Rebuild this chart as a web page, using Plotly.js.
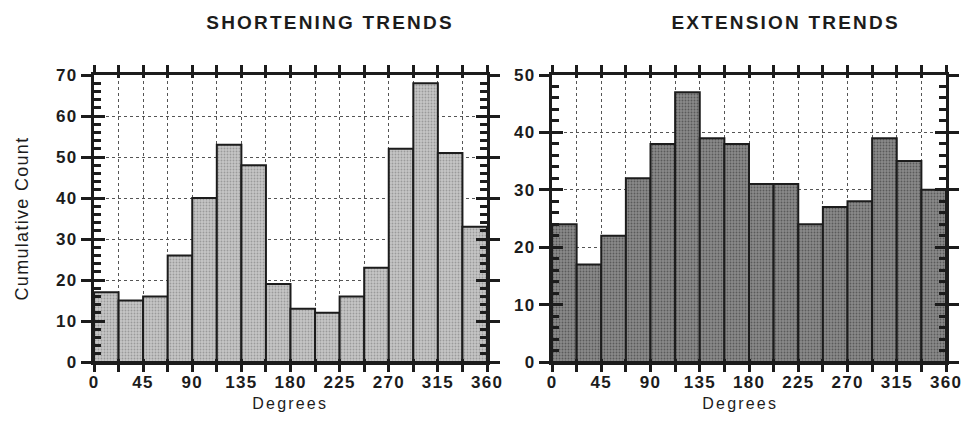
<!DOCTYPE html>
<html>
<head>
<meta charset="utf-8">
<script src="https://cdn.plot.ly/plotly-3.0.1.min.js"></script>
<style>
  html, body { margin: 0; padding: 0; background: #fff; }
  .main-svg text { letter-spacing: 1.3px; }
  .main-svg .annotation-text { letter-spacing: 2.2px; }
</style>
</head>
<body>
<div id="chart" style="width:970px;height:438px;"></div>
<script>
// Bin starts (degrees), each bin 22.5 degrees wide
const binStart = [0, 22.5, 45, 67.5, 90, 112.5, 135, 157.5, 180, 202.5, 225, 247.5, 270, 292.5, 315, 337.5];
const binWidth = 22.5;

// Cumulative counts
const shorteningCounts = [17, 15, 16, 26, 40, 53, 48, 19, 13, 12, 16, 23, 52, 68, 51, 33];
const extensionCounts  = [24, 17, 22, 32, 38, 47, 39, 38, 31, 31, 24, 27, 28, 39, 35, 30];

// Tick values / labels
const xTickVals = [0, 22.5, 45, 67.5, 90, 112.5, 135, 157.5, 180, 202.5, 225, 247.5, 270, 292.5, 315, 337.5, 360];
const xTickText = ['0', '', '45', '', '90', '', '135', '', '180', '', '225', '', '270', '', '315', '', '360'];

const titles = ['SHORTENING TRENDS', 'EXTENSION TRENDS'];
const yTitle = 'Cumulative Count';
const xTitle = 'Degrees';

const ink = '#1c1c1c';
const family = 'Liberation Sans, Arial, sans-serif';
const tickFont = {family: family, size: 17, color: ink, weight: 'bold'};
const titleFont = {family: family, size: 16, color: ink};

function bars(counts, xa, ya, fill, dots) {
  return {
    type: 'bar', x: binStart, y: counts, width: binWidth, offset: 0,
    xaxis: xa, yaxis: ya, showlegend: false, hoverinfo: 'x+y',
    marker: {
      color: fill,
      line: {color: ink, width: 2},
      pattern: {shape: '.', bgcolor: fill, fgcolor: dots, fillmode: 'replace', size: 3, solidity: 0.3}
    }
  };
}
function empty(xa, ya) {
  return {type: 'scatter', x: [], y: [], xaxis: xa, yaxis: ya, showlegend: false};
}

const data = [
  bars(shorteningCounts, 'x', 'y', '#c6c6c6', '#9a9a9a'),
  bars(extensionCounts, 'x2', 'y2', '#8a8a8a', '#5a5a5a'),
  empty('x3', 'y'), empty('x', 'y3'), empty('x', 'y5'),
  empty('x4', 'y2'), empty('x2', 'y4'), empty('x2', 'y6')
];

const H = 438, W = 970;
const yDom = [(H - 362) / H, (H - 75) / H];
const xDomL = [94 / W, 487 / W];
const xDomR = [552 / W, 946 / W];

function mainX(dom, anchor) {
  return {
    domain: dom, anchor: anchor, range: [0, 360], autorange: false,
    tickmode: 'array', tickvals: xTickVals, ticktext: xTickText,
    ticks: 'inside', ticklen: 3, tickwidth: 3, tickcolor: ink,
    ticklabelstandoff: 3,
    showline: true, linewidth: 3, linecolor: ink, mirror: 'allticks',
    showgrid: true, gridcolor: '#555', griddash: 'dot', gridwidth: 1,
    zeroline: false, tickfont: tickFont
  };
}
function overX(over, anchor) {
  return {
    overlaying: over, anchor: anchor, range: [0, 360], autorange: false,
    tickmode: 'array', tickvals: xTickVals, ticks: 'outside', ticklen: 9, tickwidth: 3,
    tickcolor: ink, showticklabels: false, showgrid: false, showline: false,
    zeroline: false, mirror: 'allticks'
  };
}
function mainY(anchor, maxV, title) {
  return {
    domain: yDom, anchor: anchor, range: [0, maxV], autorange: false,
    dtick: 10, ticks: 'outside', ticklen: 10, tickwidth: 3, tickcolor: ink,
    showline: true, linewidth: 3, linecolor: ink, mirror: 'allticks',
    showgrid: true, gridcolor: '#555', griddash: 'dot', gridwidth: 1,
    zeroline: false, tickfont: tickFont,
    title: title ? {text: title, font: {family: family, size: 18, color: ink}, standoff: 26} : undefined
  };
}
function innerY(over, anchor, maxV, side) {
  return {
    overlaying: over, anchor: anchor, side: side, range: [0, maxV], autorange: false,
    dtick: 10, ticks: 'inside', ticklen: 11, tickwidth: 3, tickcolor: ink,
    minor: {dtick: 2, ticks: 'inside', ticklen: 7, tickwidth: 3, tickcolor: ink, showgrid: false},
    showticklabels: false, showgrid: false, showline: false, zeroline: false
  };
}

const layout = {
  width: W, height: H,
  margin: {l: 0, r: 0, t: 0, b: 0},
  paper_bgcolor: '#ffffff', plot_bgcolor: '#ffffff',
  bargap: 0,
  font: titleFont,
  xaxis: mainX(xDomL, 'y'),
  xaxis2: mainX(xDomR, 'y2'),
  xaxis3: overX('x', 'y'),
  xaxis4: overX('x2', 'y2'),
  yaxis: mainY('x', 70, yTitle),
  yaxis2: mainY('x2', 50, null),
  yaxis3: innerY('y', 'x', 70, 'left'),
  yaxis5: innerY('y', 'x', 70, 'right'),
  yaxis4: innerY('y2', 'x2', 50, 'left'),
  yaxis6: innerY('y2', 'x2', 50, 'right'),
  annotations: [
    {text: '<b>' + titles[0] + '</b>', xref: 'paper', yref: 'paper', x: 330 / W, y: (H - 22) / H,
     xanchor: 'center', yanchor: 'middle', showarrow: false,
     font: {family: family, size: 19, color: ink}},
    {text: '<b>' + titles[1] + '</b>', xref: 'paper', yref: 'paper', x: 785 / W, y: (H - 22) / H,
     xanchor: 'center', yanchor: 'middle', showarrow: false,
     font: {family: family, size: 19, color: ink}},
    {text: xTitle, xref: 'paper', yref: 'paper', x: 290 / W, y: (H - 403) / H,
     xanchor: 'center', yanchor: 'middle', showarrow: false, font: titleFont},
    {text: xTitle, xref: 'paper', yref: 'paper', x: 740 / W, y: (H - 403) / H,
     xanchor: 'center', yanchor: 'middle', showarrow: false, font: titleFont}
  ]
};

Plotly.newPlot('chart', data, layout, {displayModeBar: false, staticPlot: true});
</script>
</body>
</html>
